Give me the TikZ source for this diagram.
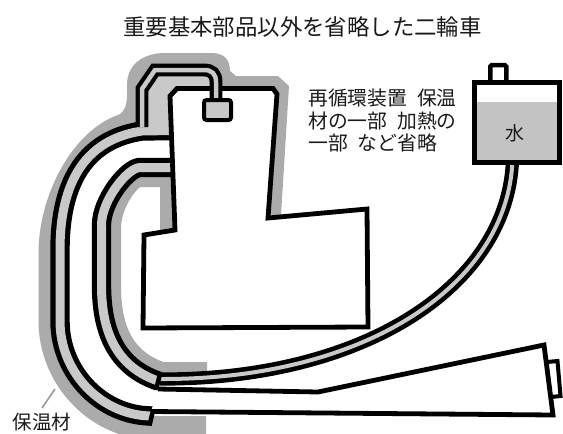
\documentclass[tikz,border=0pt]{standalone}
\usepackage{fontspec}
\newfontfamily\jp{Noto Sans CJK JP}
\definecolor{halo}{HTML}{ABABAB}
\definecolor{tube}{HTML}{C9C9C9}
\definecolor{water}{HTML}{C3C3C3}
\definecolor{ink}{HTML}{1A1A1A}
\definecolor{leader}{HTML}{999999}

\begin{document}
\begin{tikzpicture}[x=1pt,y=-1pt,
  bigtube/.style={draw=black,line width=5.2pt,double=tube,double distance=9pt,line join=round},
  thintube/.style={draw=black,line width=4.2pt,double=tube,double distance=4.5pt,line join=miter},
  feedtube/.style={draw=black,line width=4.6pt,double=tube,double distance=4pt},
  outline/.style={draw=black,line width=4.8pt,line join=miter},
  jtext/.style={text=ink,inner sep=0pt},
  notetext/.style={jtext,anchor=west,font={\jp\fontsize{19.8}{21}\selectfont}}]
\useasboundingbox (0,0) rectangle (563,434);
\clip (0,0) rectangle (563,434);

% insulation wrapped round the outer pipe, the head and the engine top
\fill[halo] (38.5,321) -- (38.5,250)
  .. controls (40,190) and (75,130) .. (118,115)
  .. controls (125,112) and (127,104) .. (127,95) -- (127,85)
  .. controls (127,63) and (145,53) .. (165,53) -- (212,53)
  .. controls (225,53) and (230,61) .. (230,71) -- (236,76) -- (278,76)
  -- (289,86) -- (281,215) -- (270,215) -- (240,150) -- (172,131) -- (142,131)
  .. controls (95,138) and (60,170) .. (60,250) -- (60,321)
  .. controls (60,373.5) and (102.5,416) .. (155,416) -- (206,416)
  -- (206,440) -- (155,440)
  .. controls (90.7,440) and (38.5,385.3) .. (38.5,321) -- cycle;

% insulation on the inner side of the inner pipe
\draw[halo,line width=15pt] (174,179.5) -- (140,179.5)
  .. controls (132,179.5) and (113.5,205) .. (113.5,228) -- (113.5,285)
  .. controls (113.5,325) and (124,356) .. (162,369.5) -- (207,369.5);
\fill[halo] (160,177) rectangle (175,233);

% outer exhaust pipe
\draw[bigtube] (173,130.5) -- (142,131)
  .. controls (95,138) and (60,170) .. (60,250) -- (60,321)
  .. controls (60,373.5) and (102.5,416) .. (152,416);
% inner exhaust pipe
\draw[bigtube] (173,167.5) -- (140,167.5)
  .. controls (128,167.5) and (101.5,200) .. (101.5,225) -- (101.5,285)
  .. controls (101.5,325) and (112,365) .. (158,381);

% wide passage over the engine top
\fill[tube] (144,86) -- (160,72) -- (214,72) -- (214,95) -- (172,95)
  -- (175,132) -- (144,132) -- cycle;

% engine block
\filldraw[outline,fill=white] (170,96) -- (177,88.5) -- (273,88.5) -- (277,94)
  -- (268,218) -- (367,209) -- (368,327) -- (143,328) -- (144,235)
  -- (175,230) -- cycle;

% thin pipe to the exhaust port
\draw[thintube] (142,127) -- (142,89) -- (155,70) -- (204,70)
  .. controls (212,70) and (216,74) .. (216,82) -- (216,101);
\filldraw[draw=black,line width=4pt,fill=tube,rounded corners=2.5pt]
  (204,100) rectangle (231,120);

% feed pipe from the water tank
\draw[feedtube] (512.5,160) .. controls (508,285) and (365,380) .. (160,379);

% pipe ends
\draw[line width=4.5pt] (154,406.5) -- (149.5,425.5);
\draw[line width=4.5pt] (160.5,372) -- (156,390);

% silencer
\filldraw[outline,fill=white] (158,389) -- (318,392) -- (544,345)
  -- (553,415) -- (151,411.5);
\draw[line width=4pt,line join=miter] (547,362) -- (557.5,361) -- (560.5,396) -- (551,397);

% water tank
\filldraw[draw=black,line width=4.5pt,fill=white,rounded corners=1.5pt]
  (490.3,82) -- (490.3,65) -- (506.3,65) -- (506.3,82);
\fill[water] (474,101.7) rectangle (559.5,162.75);
\draw[line width=5pt] (474,82.5) rectangle (559.5,162.5);

% labels
\node[jtext,font={\jp\fontsize{22.4}{24}\selectfont}] (title) at (302.5,27)
  {重要基本部品以外を省略した二輪車};
\node[notetext] (noteA) at (308,98) {再循環装置\hspace{0.5em}保温};
\node[notetext] (noteB) at (308,121) {材の一部\hspace{0.5em}加熱の};
\node[notetext] (noteC) at (308,143) {一部\hspace{0.5em}など省略};
\node[jtext,font={\jp\fontsize{19}{20}\selectfont}] (waterlabel) at (515,133) {水};
\node[jtext,font={\jp\fontsize{19.5}{21}\selectfont}] (insul) at (42,422) {保温材};
\coordinate (leadtop) at (55,389);
\coordinate (leadend) at (42,408);
\draw[leader,line width=1.6pt] (leadtop) -- (leadend);
\end{tikzpicture}
\end{document}
